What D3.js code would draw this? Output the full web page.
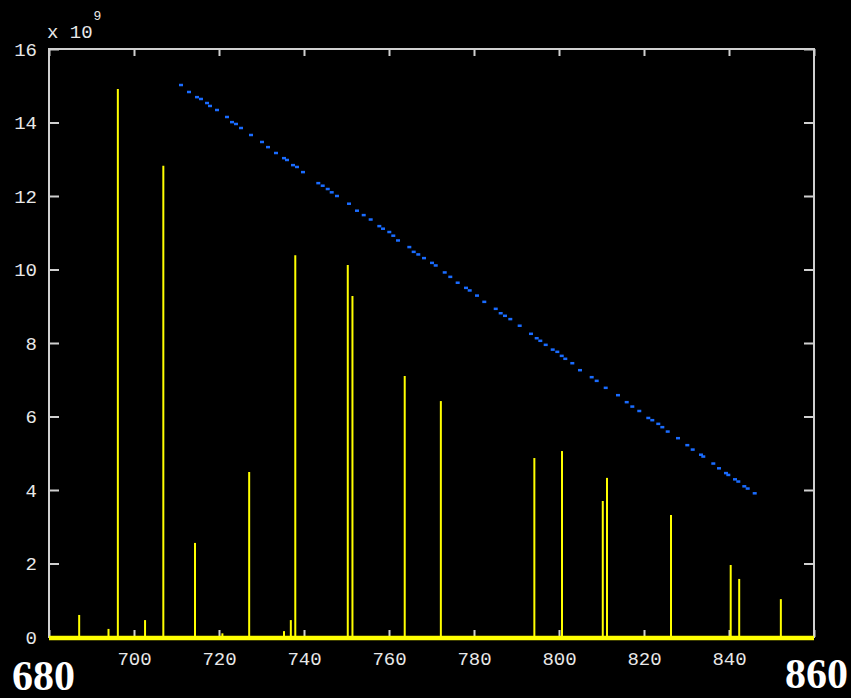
<!DOCTYPE html>
<html>
<head>
<meta charset="utf-8">
<script src="https://cdn.jsdelivr.net/npm/d3@7"></script>
<style>
  body { margin: 0; background: #000; }
  svg { display: block; }
</style>
</head>
<body>
<script>
// stem lines (yellow), x position and height in units of 1e9
var stemX = [687.1, 694.0, 696.2, 702.6, 706.9, 714.35, 720.8, 727.1, 735.3, 736.9, 737.95,
             750.3, 751.4, 763.7, 772.2, 794.2, 800.7, 810.3, 811.3, 826.35, 840.4, 842.4, 852.2];
var stemY = [0.6, 0.22, 14.91, 0.46, 12.82, 2.56, 0.1, 4.49, 0.16, 0.46, 10.39,
             10.12, 9.28, 7.1, 6.42, 4.87, 5.06, 3.7, 4.33, 3.32, 1.96, 1.58, 1.03];

// blue dots
var dotX = [711.06, 712.94, 714.82, 715.76, 717.18, 717.88, 719.53, 721.88, 723.06, 724.0,
            725.18, 727.53, 730.12, 731.53, 733.41, 735.29, 736.0, 737.41, 738.35, 739.76,
            743.36, 744.4, 745.58, 746.52, 747.76, 750.59, 752.47, 754.05, 755.69, 757.72,
            758.59, 760.07, 761.01, 762.12, 764.78, 765.81, 766.89, 768.24, 770.12, 770.99,
            773.11, 774.42, 776.16, 778.12, 778.99, 780.71, 782.42, 785.11, 786.28, 787.29,
            788.54, 790.75, 793.41, 794.75, 795.6, 796.87, 798.52, 799.6, 800.64, 801.48,
            803.13, 804.94, 807.69, 808.87, 810.99, 813.88, 815.93, 817.25, 818.89, 821.01,
            821.95, 823.36, 824.31, 825.58, 828.0, 830.19, 831.46, 833.41, 833.95, 836.31,
            837.65, 839.29, 839.84, 841.41, 842.19, 843.6, 844.4, 846.05];
var dotY = [15.02, 14.83, 14.69, 14.64, 14.53, 14.45, 14.34, 14.15, 14.01, 13.96,
            13.85, 13.66, 13.47, 13.33, 13.17, 13.03, 12.98, 12.84, 12.79, 12.65,
            12.35, 12.28, 12.19, 12.10, 12.0, 11.79, 11.60, 11.48, 11.36, 11.18,
            11.11, 11.02, 10.92, 10.79, 10.61, 10.48, 10.41, 10.31, 10.18, 10.11,
            9.92, 9.80, 9.64, 9.50, 9.43, 9.29, 9.12, 8.93, 8.81, 8.74,
            8.65, 8.47, 8.25, 8.13, 8.06, 7.95, 7.82, 7.76, 7.65, 7.57,
            7.45, 7.26, 7.07, 6.97, 6.78, 6.58, 6.39, 6.27, 6.15, 5.96,
            5.90, 5.80, 5.71, 5.59, 5.41, 5.22, 5.10, 4.96, 4.91, 4.72,
            4.59, 4.46, 4.41, 4.29, 4.23, 4.10, 4.04, 3.91];

var xTicks = [680, 700, 720, 740, 760, 780, 800, 820, 840, 860];
var yTicks = [0, 2, 4, 6, 8, 10, 12, 14, 16];

var width = 851, height = 698;
var plotL = 49, plotR = 814, plotT = 49, plotB = 637;
var frameColor = "#d0d0d0";

var svg = d3.select("body").append("svg")
    .attr("width", width)
    .attr("height", height)
    .style("background", "#000");

var x = d3.scaleLinear().domain([680, 860]).range([plotL, plotR]);
var y = d3.scaleLinear().domain([0, 16]).range([plotB, plotT]);

// axes with inward ticks
svg.append("g")
    .attr("transform", "translate(0," + plotB + ")")
    .call(d3.axisBottom(x).tickValues(xTicks).tickSize(-7).tickPadding(14.5)
      .tickFormat(function(d) { return (d == 680 || d == 860) ? "" : d; }));
svg.append("g")
    .attr("transform", "translate(0," + plotT + ")")
    .call(d3.axisTop(x).tickValues(xTicks).tickSize(-7).tickFormat(""));
svg.append("g")
    .attr("transform", "translate(" + plotL + ",0)")
    .call(d3.axisLeft(y).tickValues(yTicks).tickSize(-10).tickPadding(12));
svg.append("g")
    .attr("transform", "translate(" + plotR + ",0)")
    .call(d3.axisRight(y).tickValues(yTicks).tickSize(-10).tickFormat(""));

svg.selectAll(".domain").remove();
svg.selectAll(".tick line").attr("stroke", frameColor).attr("stroke-width", 2);
svg.selectAll(".tick text")
    .attr("fill", "#e8e8e8")
    .style("font-family", "'Liberation Mono', monospace")
    .style("font-size", "19px");

// frame
svg.append("rect")
    .attr("x", plotL)
    .attr("y", plotT)
    .attr("width", plotR - plotL)
    .attr("height", plotB - plotT)
    .attr("fill", "none")
    .attr("stroke", frameColor)
    .attr("stroke-width", 2);

// stems
svg.selectAll(".stem")
    .data(stemX)
    .enter().append("line")
    .attr("class", "stem")
    .attr("x1", function(d) { return x(d); })
    .attr("x2", function(d) { return x(d); })
    .attr("y1", y(0))
    .attr("y2", function(d, i) { return y(stemY[i]); })
    .attr("stroke", "#ffff00")
    .attr("stroke-width", 2);

// baseline
svg.append("line")
    .attr("x1", plotL)
    .attr("x2", plotR)
    .attr("y1", y(0) + 1)
    .attr("y2", y(0) + 1)
    .attr("stroke", "#ffff00")
    .attr("stroke-width", 4.5);

// dots
svg.selectAll(".dot")
    .data(dotX)
    .enter().append("rect")
    .attr("class", "dot")
    .attr("x", function(d) { return x(d) - 2; })
    .attr("y", function(d, i) { return y(dotY[i]) - 1.25; })
    .attr("width", 4)
    .attr("height", 2.5)
    .attr("fill", "#1a6cff");

// exponent label
var expo = svg.append("text")
    .attr("x", 47)
    .attr("y", 38)
    .attr("fill", "#e8e8e8")
    .style("font-family", "'Liberation Mono', monospace")
    .style("font-size", "19px");
expo.append("tspan").text("x 10");
expo.append("tspan")
    .attr("dx", 1)
    .attr("dy", -18)
    .style("font-size", "13px")
    .text("9");

// big end labels
svg.append("text")
    .attr("x", 12)
    .attr("y", 690)
    .attr("fill", "#fff")
    .style("font-family", "'Liberation Serif', serif")
    .style("font-weight", "bold")
    .style("font-size", "42px")
    .text("680");
svg.append("text")
    .attr("x", 848)
    .attr("y", 688)
    .attr("text-anchor", "end")
    .attr("fill", "#fff")
    .style("font-family", "'Liberation Serif', serif")
    .style("font-weight", "bold")
    .style("font-size", "42px")
    .text("860");
</script>
</body>
</html>
